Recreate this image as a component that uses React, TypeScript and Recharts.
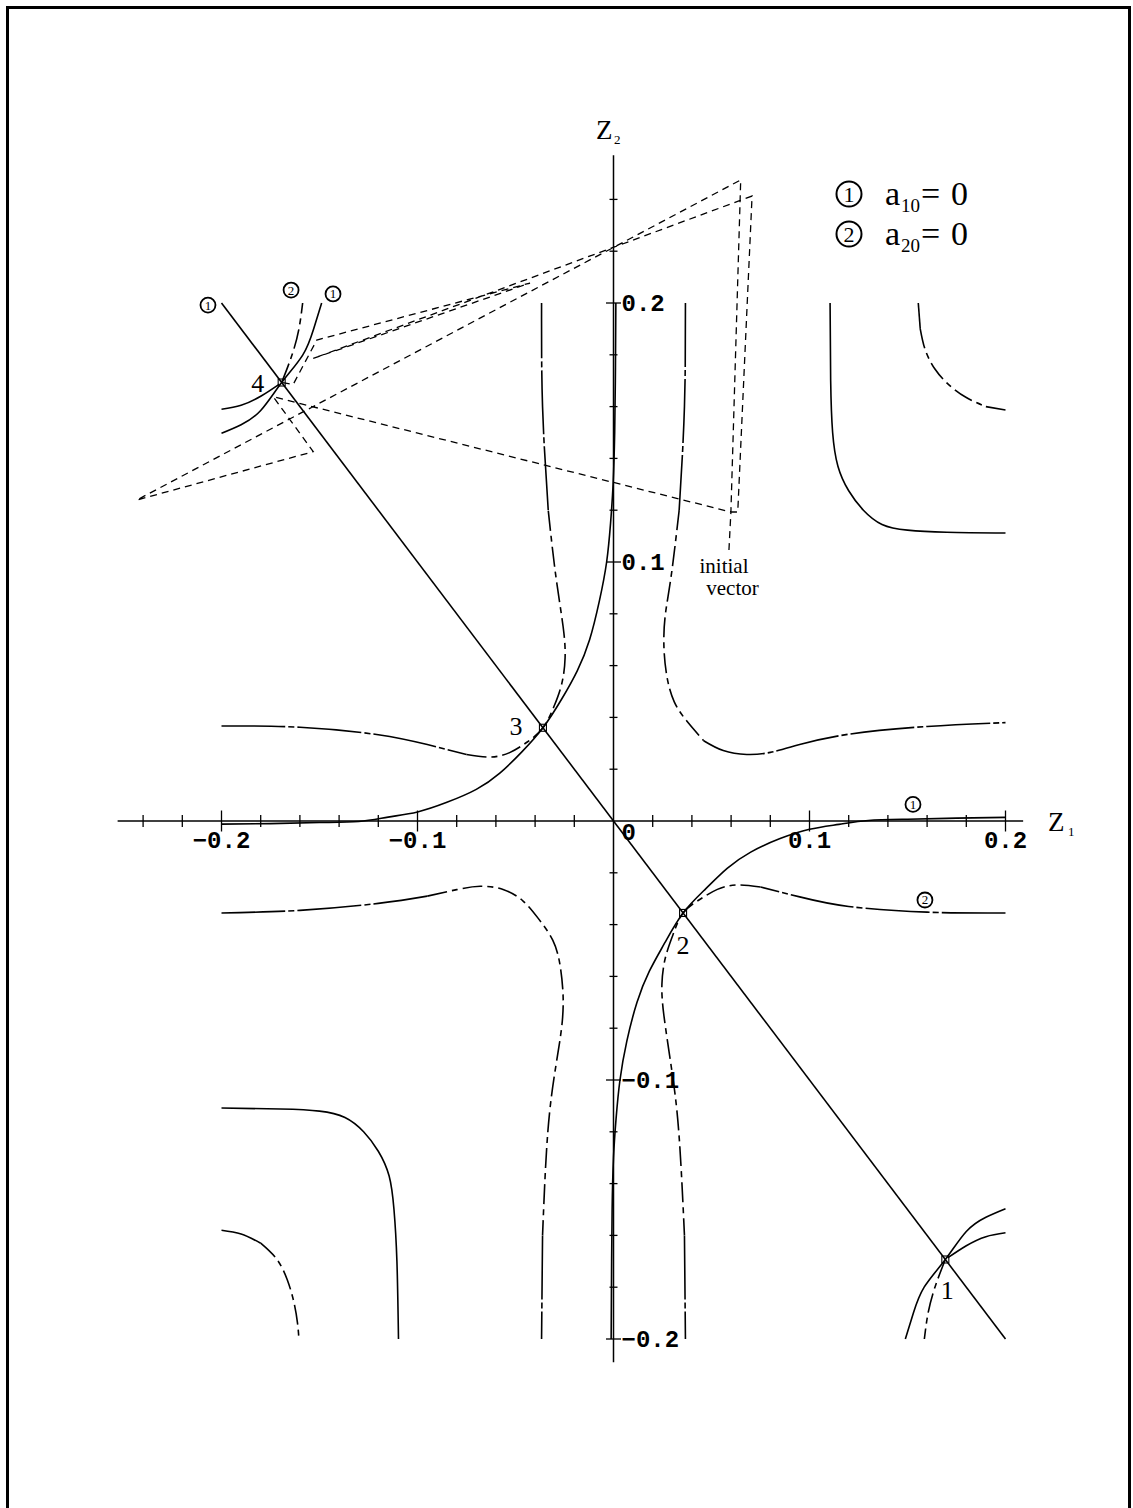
import React from "react";
import { ComposedChart, Line, Scatter, XAxis, YAxis, ReferenceLine } from "recharts";

type P = [number, number];

// a10 = 0 branches
const a10Diagonal: P[] = [[-0.2, 0.2], [0.2, -0.2]];
const a10Root3: P[] = [
  [-0.2, -0.0012], [-0.175, -0.001], [-0.15, -0.0006], [-0.13, -0.0002], [-0.115, 0.0015], [-0.1, 0.0035],
  [-0.085, 0.0072], [-0.07, 0.0122], [-0.058, 0.0185], [-0.047, 0.0265], [-0.036, 0.036],
  [-0.0265, 0.047], [-0.0185, 0.058], [-0.0122, 0.07], [-0.0072, 0.085], [-0.0035, 0.1],
  [-0.0015, 0.115], [-0.0002, 0.13], [0.0006, 0.15], [0.001, 0.175], [0.0012, 0.2],
];
const a10Root2: P[] = [
  [0.2, 0.0014], [0.175, 0.0011], [0.15, 0.0007], [0.13, 0.0002], [0.115, -0.0013], [0.1, -0.0032],
  [0.085, -0.0068], [0.07, -0.012], [0.058, -0.0183], [0.047, -0.0262], [0.0355, -0.0355],
  [0.0262, -0.047], [0.0183, -0.058], [0.012, -0.07], [0.0068, -0.085], [0.0033, -0.1],
  [0.0013, -0.115], [0.0, -0.13], [-0.0007, -0.15], [-0.001, -0.175], [-0.0012, -0.2],
];
const a10Root4: P[] = [
  [-0.2, 0.1497], [-0.19, 0.153], [-0.18, 0.1585], [-0.1693, 0.1693],
  [-0.1585, 0.18], [-0.153, 0.19], [-0.1489, 0.2],
];
const a10Root1: P[] = [
  [0.2, -0.1497], [0.19, -0.153], [0.18, -0.1585], [0.1693, -0.1693],
  [0.1585, -0.18], [0.153, -0.19], [0.1489, -0.2],
];
const a10UpperRight: P[] = [
  [0.1105, 0.2], [0.1108, 0.17], [0.1118, 0.15], [0.1145, 0.137], [0.12, 0.1275],
  [0.1275, 0.12], [0.137, 0.1145], [0.15, 0.1123], [0.17, 0.1115], [0.2, 0.1112],
];
const a10LowerLeft: P[] = [
  [-0.2, -0.1108], [-0.17, -0.1112], [-0.15, -0.112], [-0.137, -0.1145], [-0.1275, -0.12],
  [-0.12, -0.1275], [-0.1145, -0.137], [-0.112, -0.15], [-0.1105, -0.17], [-0.1097, -0.2],
];

// a20 = 0 branches
const a20Root3: P[] = [
  [-0.2, 0.0367], [-0.16, 0.0362], [-0.12, 0.0333], [-0.095, 0.0295], [-0.075, 0.0257],
  [-0.063, 0.0247], [-0.053, 0.0264], [-0.044, 0.0305], [-0.036, 0.036], [-0.0305, 0.044],
  [-0.0264, 0.053], [-0.0247, 0.063], [-0.0257, 0.075], [-0.0295, 0.095], [-0.0333, 0.12],
  [-0.0362, 0.16], [-0.0367, 0.2],
];
const a20Root2: P[] = [
  [0.2, -0.0355], [0.16, -0.0352], [0.12, -0.033], [0.095, -0.0293], [0.075, -0.0255],
  [0.063, -0.0247], [0.053, -0.0264], [0.044, -0.0303], [0.0355, -0.0355], [0.0303, -0.044],
  [0.0264, -0.053], [0.0247, -0.063], [0.0257, -0.075], [0.0295, -0.095], [0.0333, -0.12],
  [0.0362, -0.16], [0.0367, -0.2],
];
const a20UpperRight: P[] = [
  [0.0367, 0.2], [0.0362, 0.16], [0.0335, 0.12], [0.0295, 0.095], [0.0265, 0.08],
  [0.0257, 0.068], [0.0272, 0.056], [0.031, 0.046], [0.0375, 0.0385], [0.046, 0.031],
  [0.056, 0.0272], [0.068, 0.0257], [0.08, 0.0265], [0.095, 0.0295], [0.12, 0.0335],
  [0.16, 0.0365], [0.2, 0.038],
];
const a20LowerLeft: P[] = [
  [-0.2, -0.0355], [-0.16, -0.0345], [-0.12, -0.0318], [-0.095, -0.029], [-0.08, -0.0265],
  [-0.068, -0.0252], [-0.056, -0.0265], [-0.046, -0.031], [-0.0385, -0.0375], [-0.031, -0.046],
  [-0.0272, -0.056], [-0.0257, -0.068], [-0.0265, -0.08], [-0.0295, -0.095], [-0.0335, -0.12],
  [-0.0362, -0.16], [-0.0367, -0.2],
];
const a20Root4: P[] = [
  [-0.2, 0.159], [-0.19, 0.1605], [-0.18, 0.164], [-0.1693, 0.1693],
  [-0.164, 0.18], [-0.1605, 0.19], [-0.1586, 0.2],
];
const a20Root1: P[] = [
  [0.2, -0.159], [0.19, -0.1605], [0.18, -0.164], [0.1693, -0.1693],
  [0.164, -0.18], [0.1605, -0.19], [0.1586, -0.2],
];
const a20UpperRightOuter: P[] = [
  [0.1555, 0.2], [0.1565, 0.19], [0.159, 0.182], [0.164, 0.1745], [0.171, 0.1685],
  [0.18, 0.1635], [0.19, 0.16], [0.2, 0.1587],
];
const a20LowerLeftOuter: P[] = [
  [-0.2, -0.158], [-0.19, -0.1595], [-0.18, -0.163], [-0.172, -0.169], [-0.1665, -0.177],
  [-0.163, -0.186], [-0.1612, -0.194], [-0.1605, -0.2],
];

// iteration path from the initial vector
const iteratePath: P[] = [
  [0.0589, 0.1046], [0.0599, 0.1193], [0.0649, 0.2475], [-0.2433, 0.1239], [-0.1532, 0.1426],
  [-0.1736, 0.1638], [0.0599, 0.1193], [0.0634, 0.1193], [0.0707, 0.2413], [-0.1532, 0.1786],
  [-0.0426, 0.2077], [-0.1514, 0.1857], [-0.1634, 0.1686], [-0.1693, 0.1693],
];

// roots on the diagonal
const rootPts: P[] = [[0.1693, -0.1693], [0.0355, -0.0355], [-0.036, 0.036], [-0.1693, 0.1693]];
const rootNames = ["1", "2", "3", "4"];

// circled tags next to curve ends
const tagPts: P[] = [[-0.2069, 0.1992], [-0.1645, 0.205], [-0.1431, 0.2035], [0.1528, 0.0064], [0.1589, -0.0305]];
const tagNums = ["1", "2", "1", "1", "2"];

const xMajor = [-0.2, -0.1, 0.1, 0.2];
const xMajorLabels = ["\u22120.2", "\u22120.1", "0.1", "0.2"];
const xMinor = [-0.24, -0.22, -0.18, -0.16, -0.14, -0.12, -0.08, -0.06, -0.04, -0.02, 0.02, 0.04, 0.06, 0.08, 0.12, 0.14, 0.16, 0.18];
const yMajor = [0.2, 0.1, -0.1, -0.2];
const yMajorLabels = ["0.2", "0.1", "\u22120.1", "\u22120.2"];
const yMinor = [0.24, 0.22, 0.18, 0.16, 0.14, 0.12, 0.08, 0.06, 0.04, 0.02, -0.02, -0.04, -0.06, -0.08, -0.12, -0.14, -0.16, -0.18];

const toXY = (pts: P[]) => pts.map(([x, y]) => ({ x, y }));

const SOLID = { stroke: "#000", strokeWidth: 1.6 };
// a20 curves: long dashes along the straight stretches, short ones around the bends
const A20_LONG = "64 3 6 3";
const A20_SHORT = "20 5 6 5";
const MONO = "'Liberation Mono', 'DejaVu Sans Mono', monospace";
const SERIF = "'Liberation Serif', 'Times New Roman', serif";

// [points, first index of bend, last index of bend]
const a20Curves: [P[], number, number][] = [
  [a20Root3, 4, 14],
  [a20Root2, 4, 15],
  [a20UpperRight, 2, 9],
  [a20LowerLeft, 3, 15],
  [a20Root4, 3, 6],
  [a20Root1, 3, 6],
  [a20UpperRightOuter, 1, 6],
  [a20LowerLeftOuter, 2, 7],
];

const a10Curves = [a10Diagonal, a10Root3, a10Root2, a10Root4, a10Root1, a10UpperRight, a10LowerLeft];

const xTickData = [
  ...xMajor.map((x, i) => ({ x, y: 0, major: true, label: xMajorLabels[i] })),
  ...xMinor.map((x) => ({ x, y: 0, major: false, label: "" })),
];
const yTickData = [
  ...yMajor.map((y, i) => ({ x: 0, y, major: true, label: yMajorLabels[i] })),
  ...yMinor.map((y) => ({ x: 0, y, major: false, label: "" })),
];

function XTick(props: any) {
  const { cx, cy, payload } = props;
  const h = payload.major ? 10.5 : 6;
  return (
    <g>
      <line x1={cx} x2={cx} y1={cy - h} y2={cy + h} stroke="#000" strokeWidth={1.3} />
      {payload.label && (
        <text x={cx} y={cy + 27} textAnchor="middle" fontFamily={MONO} fontWeight="bold" fontSize={24}>
          {payload.label}
        </text>
      )}
    </g>
  );
}

function YTick(props: any) {
  const { cx, cy, payload } = props;
  const h = payload.major ? 7.5 : 4;
  return (
    <g>
      <line x1={cx - h} x2={cx + h} y1={cy} y2={cy} stroke="#000" strokeWidth={1.3} />
      {payload.label && (
        <text x={cx + 8} y={cy + 8} textAnchor="start" fontFamily={MONO} fontWeight="bold" fontSize={24}>
          {payload.label}
        </text>
      )}
    </g>
  );
}

// label offsets for the numbered roots (pixels)
const rootOffsets = [[2, 40], [0, 41], [-27, 7], [-24, 9]];

function RootMark(props: any) {
  const { cx, cy, index } = props;
  const [dx, dy] = rootOffsets[index] || [0, 0];
  return (
    <g>
      <rect x={cx - 3.5} y={cy - 3.5} width={7} height={7} fill="none" stroke="#000" strokeWidth={1.1} />
      <text x={cx + dx} y={cy + dy} textAnchor="middle" fontFamily={SERIF} fontSize={26}>
        {rootNames[index]}
      </text>
    </g>
  );
}

function CurveTag(props: any) {
  const { cx, cy, index } = props;
  return (
    <g>
      <circle cx={cx} cy={cy} r={7.5} fill="#fff" stroke="#000" strokeWidth={1.8} />
      <text x={cx} y={cy + 4.5} textAnchor="middle" fontFamily={SERIF} fontSize={13}>
        {tagNums[index]}
      </text>
    </g>
  );
}

function ZeroLabel(props: any) {
  const { cx, cy } = props;
  return (
    <text x={cx + 8} y={cy + 19} fontFamily={MONO} fontWeight="bold" fontSize={24}>0</text>
  );
}

function a20Pieces(pts: P[], b0: number, b1: number) {
  const pieces: { pts: P[]; dash: string }[] = [
    { pts: pts.slice(0, b0 + 1), dash: A20_LONG },
    { pts: pts.slice(b0, b1 + 1), dash: A20_SHORT },
    { pts: pts.slice(b1), dash: A20_LONG },
  ];
  return pieces.filter((p) => p.pts.length > 1);
}

export default function App() {
  return (
    <div style={{ position: "absolute", left: 0, top: 0, width: 1133, height: 1508, overflow: "hidden", background: "#fff" }}>
      <div style={{ position: "absolute", left: 6, top: 6, width: 1125, height: 1600, border: "3px solid #000", boxSizing: "border-box" }} />
      <div style={{ position: "absolute", left: 0, top: 0 }}>
        <ComposedChart width={1133} height={1508} margin={{ top: 0, right: 0, bottom: 0, left: 0 }}>
          <XAxis type="number" dataKey="x" domain={[-0.31301, 0.26505]} allowDataOverflow hide />
          <YAxis type="number" dataKey="y" domain={[-0.26525, 0.31699]} allowDataOverflow hide />
          <ReferenceLine segment={[{ x: -0.253, y: 0 }, { x: 0.209, y: 0 }]} stroke="#000" strokeWidth={1.5} ifOverflow="visible" />
          <ReferenceLine segment={[{ x: 0, y: -0.209 }, { x: 0, y: 0.257 }]} stroke="#000" strokeWidth={1.5} ifOverflow="visible" />
          {a10Curves.map((c, i) => (
            <Line key={"a10-" + i} data={toXY(c)} dataKey="y" type={c.length > 2 ? "natural" : "linear"} dot={false} activeDot={false} {...SOLID} isAnimationActive={false} />
          ))}
          {a20Curves.flatMap(([c, b0, b1], i) =>
            a20Pieces(c, b0, b1).map((p, j) => (
              <Line key={`a20-${i}-${j}`} data={toXY(p.pts)} dataKey="y" type="natural" dot={false} activeDot={false} {...SOLID} strokeDasharray={p.dash} isAnimationActive={false} />
            ))
          )}
          <Line data={toXY(iteratePath)} dataKey="y" type="linear" dot={false} activeDot={false} stroke="#000" strokeWidth={1.3} strokeDasharray="7 5" isAnimationActive={false} />
          <Scatter data={xTickData} dataKey="y" shape={XTick} isAnimationActive={false} />
          <Scatter data={yTickData} dataKey="y" shape={YTick} isAnimationActive={false} />
          <Scatter data={[{ x: 0, y: 0 }]} dataKey="y" shape={ZeroLabel} isAnimationActive={false} />
          <Scatter data={toXY(rootPts)} dataKey="y" shape={RootMark} isAnimationActive={false} />
          <Scatter data={toXY(tagPts)} dataKey="y" shape={CurveTag} isAnimationActive={false} />
        </ComposedChart>
      </div>
      <svg width={1133} height={1508} style={{ position: "absolute", left: 0, top: 0, pointerEvents: "none" }}>
        <g fontFamily={SERIF} fill="#000">
          <text x={596} y={139} fontSize={27}>Z</text>
          <text x={614} y={144} fontSize={13}>2</text>
          <text x={1048} y={831} fontSize={27}>Z</text>
          <text x={1068} y={836} fontSize={13}>1</text>
          <text x={724} y={573} fontSize={21} textAnchor="middle">initial</text>
          <text x={732.5} y={595} fontSize={21} textAnchor="middle">vector</text>

          <circle cx={849} cy={194} r={12.5} fill="none" stroke="#000" strokeWidth={2} />
          <text x={849} y={202} fontSize={22} textAnchor="middle">1</text>
          <text x={885} y={205} fontSize={34}>a</text>
          <text x={901} y={212} fontSize={19}>10</text>
          <text x={921} y={205} fontSize={34}>=</text>
          <text x={951} y={205} fontSize={34}>0</text>

          <circle cx={849} cy={234} r={12.5} fill="none" stroke="#000" strokeWidth={2} />
          <text x={849} y={242} fontSize={22} textAnchor="middle">2</text>
          <text x={885} y={245} fontSize={34}>a</text>
          <text x={901} y={252} fontSize={19}>20</text>
          <text x={921} y={245} fontSize={34}>=</text>
          <text x={951} y={245} fontSize={34}>0</text>
        </g>
      </svg>
    </div>
  );
}
